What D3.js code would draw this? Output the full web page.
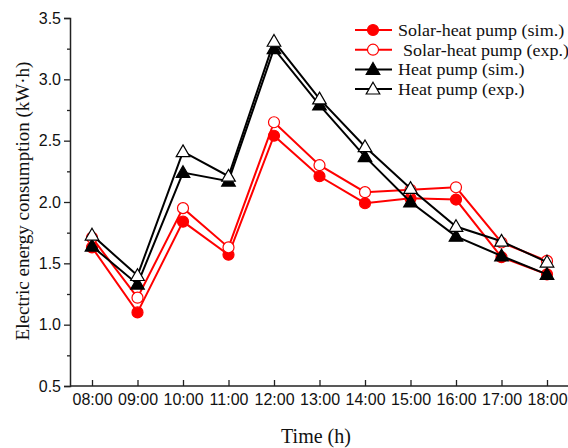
<!DOCTYPE html>
<html>
<head>
<meta charset="utf-8">
<script src="https://cdn.jsdelivr.net/npm/d3@7/dist/d3.min.js"></script>
<style>
  html, body { margin: 0; padding: 0; background: #fff; }
  svg { display: block; }
</style>
</head>
<body>
<svg id="chart" width="568" height="448"></svg>
<script>
// Hourly electric energy consumption, 08:00 - 18:00
const hours = ["08:00","09:00","10:00","11:00","12:00","13:00","14:00","15:00","16:00","17:00","18:00"];
const solarSim = [1.63, 1.10, 1.84, 1.57, 2.54, 2.21, 1.99, 2.03, 2.02, 1.55, 1.41];
const solarExp = [1.71, 1.22, 1.95, 1.63, 2.65, 2.30, 2.08, 2.10, 2.12, 1.67, 1.52];
const hpSim    = [1.64, 1.33, 2.24, 2.17, 3.25, 2.79, 2.37, 2.00, 1.72, 1.56, 1.41];
const hpExp    = [1.73, 1.40, 2.41, 2.21, 3.31, 2.84, 2.45, 2.11, 1.80, 1.68, 1.51];
const yTicks = [0.5, 1.0, 1.5, 2.0, 2.5, 3.0, 3.5];
const yMinorTicks = [0.75, 1.25, 1.75, 2.25, 2.75, 3.25];

const series = [
  { name: "Solar-heat pump (sim.)", values: solarSim, color: "#f00", shape: "circle", filled: true, indent: 0 },
  { name: "Solar-heat pump (exp.)", values: solarExp, color: "#f00", shape: "circle", filled: false, indent: 5 },
  { name: "Heat pump (sim.)", values: hpSim, color: "#000", shape: "triangle", filled: true, indent: 0 },
  { name: "Heat pump (exp.)", values: hpExp, color: "#000", shape: "triangle", filled: false, indent: 0 }
];

const svg = d3.select("#chart");
const axisLeftX = 70, axisBottomY = 386, axisRightX = 568, plotTop = 18;

const x = d3.scalePoint().domain(hours).range([92, 547]);
const y = d3.scaleLinear().domain([0.5, 3.5]).range([axisBottomY, plotTop]);

const sansFont = "'Liberation Sans', Arial, sans-serif";
const serifFont = "'Liberation Serif', 'Times New Roman', serif";

// Symbol generators
const circleSym = d3.symbol().type(d3.symbolCircle).size(95);
const triSym = d3.symbol().type(d3.symbolTriangle).size(80);

function markerPath(s) { return s.shape === "circle" ? circleSym() : triSym(); }

// Series lines and markers
const line = d3.line().x((d, i) => x(hours[i])).y(d => y(d));

series.forEach(s => {
  const g = svg.append("g");
  g.append("path")
    .attr("d", line(s.values))
    .attr("fill", "none")
    .attr("stroke", s.color)
    .attr("stroke-width", 2);
  g.selectAll("path.mk")
    .data(s.values)
    .enter().append("path")
    .attr("class", "mk")
    .attr("d", markerPath(s))
    .attr("transform", (d, i) => `translate(${x(hours[i])},${y(d) + (s.shape === "triangle" ? 1 : 0)})`)
    .attr("fill", s.filled ? s.color : "#fff")
    .attr("stroke", s.color)
    .attr("stroke-width", 1.2);
});

// Left axis
const yAxis = d3.axisLeft(y).tickValues(yTicks).tickFormat(d3.format(".1f")).tickSize(6).tickPadding(3);
const gy = svg.append("g").attr("transform", `translate(${axisLeftX},0)`).call(yAxis);
gy.select(".domain").attr("stroke", "#222").attr("stroke-width", 1.5);
gy.selectAll(".tick line").attr("stroke", "#222").attr("stroke-width", 1.3);
gy.selectAll(".tick text").attr("font-family", sansFont).attr("font-size", 16).attr("fill", "#111");
const yMinor = d3.axisLeft(y).tickValues(yMinorTicks).tickFormat("").tickSize(3);
const gym = svg.append("g").attr("transform", `translate(${axisLeftX},0)`).call(yMinor);
gym.select(".domain").remove();
gym.selectAll(".tick line").attr("stroke", "#222").attr("stroke-width", 1.3);

// Bottom axis (ticks point inward)
const xAxis = d3.axisBottom(x).tickSizeInner(-6).tickSizeOuter(0).tickPadding(8);
const gx = svg.append("g").attr("transform", `translate(0,${axisBottomY})`).call(xAxis);
gx.select(".domain").remove();
gx.selectAll(".tick line").attr("stroke", "#222").attr("stroke-width", 1.3);
gx.selectAll(".tick text").attr("font-family", sansFont).attr("font-size", 16).attr("fill", "#111");
svg.append("line")
  .attr("x1", axisLeftX).attr("x2", axisRightX)
  .attr("y1", axisBottomY).attr("y2", axisBottomY)
  .attr("stroke", "#222").attr("stroke-width", 1.5);

// Axis titles
svg.append("text")
  .attr("x", 316).attr("y", 443)
  .attr("text-anchor", "middle")
  .attr("font-family", serifFont).attr("font-size", 20).attr("fill", "#111")
  .text("Time (h)");
svg.append("text")
  .attr("transform", "translate(29,201) rotate(-90)")
  .attr("text-anchor", "middle")
  .attr("font-family", serifFont).attr("font-size", 19).attr("fill", "#111")
  .text("Electric energy consumption (kW\u00b7h)");

// Legend (labels slightly widened)
const legend = svg.append("g");
series.forEach((s, i) => {
  const ly = 30 + i * 19.7;
  const row = legend.append("g");
  row.append("line")
    .attr("x1", 355).attr("x2", 392).attr("y1", ly).attr("y2", ly)
    .attr("stroke", s.color).attr("stroke-width", 2);
  row.append("path")
    .attr("d", markerPath(s))
    .attr("transform", `translate(373,${ly + (s.shape === "triangle" ? 1 : 0)})`)
    .attr("fill", s.filled ? s.color : "#fff")
    .attr("stroke", s.color).attr("stroke-width", 1.2);
  row.append("text")
    .attr("transform", `translate(${398 + s.indent},${ly}) scale(1.06,1)`)
    .attr("dy", "0.35em")
    .attr("font-family", serifFont).attr("font-size", 17).attr("fill", "#111")
    .text(s.name);
});
</script>
</body>
</html>
